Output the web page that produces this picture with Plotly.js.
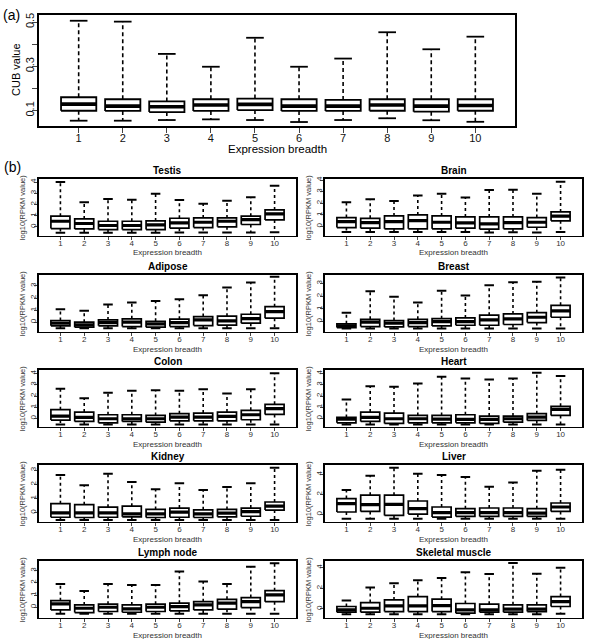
<!DOCTYPE html>
<html><head><meta charset="utf-8">
<script src="https://cdn.plot.ly/plotly-3.0.1.min.js"></script>
<style>html,body{margin:0;padding:0;background:#fff;} #chart{width:600px;height:639px;}</style>
</head><body><div id="chart"></div>
<script>
// ---------- data ----------
const breadth = [1, 2, 3, 4, 5, 6, 7, 8, 9, 10];
const breadthLabels = ['1', '2', '3', '4', '5', '6', '7', '8', '9', '10'];

// (a) CUB value by expression breadth
const cubTickVals = [0.1, 0.2, 0.3, 0.4, 0.5];
const cubTickText = ['0.1', '', '0.3', '', '0.5'];
const cubUpper  = [0.506, 0.502, 0.356, 0.298, 0.429, 0.298, 0.335, 0.454, 0.377, 0.434];
const cubQ3     = [0.160, 0.151, 0.141, 0.151, 0.154, 0.151, 0.148, 0.151, 0.151, 0.151];
const cubMedian = [0.129, 0.120, 0.117, 0.125, 0.128, 0.120, 0.120, 0.125, 0.120, 0.123];
const cubQ1     = [0.099, 0.098, 0.093, 0.098, 0.102, 0.098, 0.098, 0.099, 0.095, 0.099];
const cubLower  = [0.054, 0.054, 0.057, 0.060, 0.057, 0.048, 0.057, 0.065, 0.056, 0.049];

// (b) log10(RPKM value) by expression breadth, per tissue
const tissueNames = ['Testis', 'Brain', 'Adipose', 'Breast', 'Colon', 'Heart', 'Kidney', 'Liver', 'Lymph node', 'Skeletal muscle'];

const testisUpper  = [4.0, 2.19, 2.49, 2.43, 2.96, 2.4, 2.07, 2.34, 2.64, 3.67];
const testisQ3     = [0.95, 0.71, 0.5, 0.5, 0.53, 0.77, 0.8, 0.8, 0.95, 1.51];
const testisMedian = [0.5, 0.3, 0.12, 0.12, 0.18, 0.36, 0.41, 0.5, 0.65, 1.16];
const testisQ1     = [-0.15, -0.18, -0.24, -0.24, -0.24, -0.12, -0.06, 0, 0.21, 0.62];
const testisLower  = [-0.53, -0.53, -0.53, -0.53, -0.53, -0.5, -0.5, -0.5, -0.5, -0.47];

const brainUpper  = [2.09, 2.34, 2.2, 2.66, 2.83, 2.49, 3.14, 3.17, 2.83, 3.86];
const brainQ3     = [0.77, 0.71, 0.91, 1.0, 0.91, 0.83, 0.83, 0.83, 0.77, 1.26];
const brainMedian = [0.43, 0.34, 0.43, 0.51, 0.37, 0.31, 0.23, 0.34, 0.37, 0.89];
const brainQ1     = [-0.09, -0.14, -0.2, -0.2, -0.2, -0.14, -0.23, -0.2, -0.06, 0.49];
const brainLower  = [-0.46, -0.46, -0.46, -0.46, -0.46, -0.46, -0.51, -0.49, -0.51, -0.46];

const adiposeUpper  = [1.07, 0.94, 1.46, 1.63, 1.76, 1.9, 2.23, 2.87, 3.28, 3.77];
const adiposeQ3     = [0.14, 0, 0.19, 0.28, 0.08, 0.25, 0.47, 0.5, 0.66, 1.29];
const adiposeMedian = [-0.08, -0.22, -0.03, 0, -0.14, -0.03, 0.19, 0.11, 0.3, 0.88];
const adiposeQ1     = [-0.3, -0.41, -0.3, -0.36, -0.41, -0.36, -0.28, -0.25, -0.08, 0.33];
const adiposeLower  = [-0.5, -0.5, -0.5, -0.5, -0.5, -0.5, -0.5, -0.5, -0.5, -0.5];

const breastUpper  = [0.7, 2.38, 1.96, 1.49, 2.43, 2.04, 2.85, 3.1, 3.13, 3.47];
const breastQ3     = [-0.18, 0.18, 0.08, 0.18, 0.23, 0.29, 0.5, 0.6, 0.7, 1.28];
const breastMedian = [-0.34, -0.05, -0.13, -0.08, 0, 0, 0.13, 0.21, 0.34, 0.84];
const breastQ1     = [-0.47, -0.39, -0.42, -0.39, -0.34, -0.29, -0.29, -0.23, -0.08, 0.34];
const breastLower  = [-0.55, -0.55, -0.55, -0.55, -0.55, -0.55, -0.55, -0.55, -0.55, -0.55];

const colonUpper  = [2.64, 1.8, 2.28, 2.46, 2.52, 2.46, 2.61, 2.22, 2.61, 4.02];
const colonQ3     = [0.78, 0.57, 0.33, 0.33, 0.27, 0.42, 0.48, 0.57, 0.72, 1.26];
const colonMedian = [0.21, 0.09, -0.03, -0.03, -0.03, 0.12, 0.12, 0.18, 0.33, 0.87];
const colonQ1     = [-0.15, -0.27, -0.39, -0.27, -0.33, -0.21, -0.21, -0.21, -0.12, 0.36];
const colonLower  = [-0.54, -0.54, -0.54, -0.54, -0.54, -0.54, -0.54, -0.54, -0.54, -0.54];

const heartUpper  = [1.68, 2.88, 2.82, 3.12, 3.72, 3.57, 3.48, 3.57, 4.08, 3.78];
const heartQ3     = [0.09, 0.57, 0.48, 0.27, 0.27, 0.33, 0.21, 0.21, 0.42, 1.08];
const heartMedian = [-0.06, 0.09, -0.03, -0.03, -0.06, -0.09, -0.09, -0.03, 0.12, 0.81];
const heartQ1     = [-0.39, -0.27, -0.45, -0.39, -0.39, -0.39, -0.45, -0.33, -0.18, 0.27];
const heartLower  = [-0.55, -0.55, -0.55, -0.55, -0.55, -0.55, -0.55, -0.55, -0.55, -0.55];

const kidneyUpper  = [2.65, 1.94, 2.74, 2.17, 1.65, 2.08, 1.61, 1.82, 2.08, 3.17];
const kidneyQ3     = [0.64, 0.57, 0.4, 0.47, 0.24, 0.33, 0.21, 0.24, 0.33, 0.76];
const kidneyMedian = [0, 0, 0, -0.07, -0.07, 0.05, -0.07, -0.02, 0.09, 0.47];
const kidneyQ1     = [-0.31, -0.33, -0.31, -0.28, -0.33, -0.31, -0.33, -0.28, -0.24, 0.19];
const kidneyLower  = [-0.5, -0.5, -0.5, -0.5, -0.5, -0.5, -0.5, -0.5, -0.5, -0.5];

const liverUpper  = [2.45, 3.87, 4.67, 4.07, 3.93, 3.73, 2.76, 3.19, 4.37, 4.47];
const liverQ3     = [1.58, 1.92, 1.92, 1.34, 0.74, 0.57, 0.64, 0.64, 0.57, 1.14];
const liverMedian = [1.08, 0.97, 1.01, 0.57, 0.17, 0.17, 0.17, 0.17, 0.13, 0.74];
const liverQ1     = [0.24, 0.3, -0.1, 0.03, -0.27, -0.2, -0.2, -0.2, -0.2, 0.3];
const liverLower  = [-0.44, -0.44, -0.44, -0.44, -0.44, -0.44, -0.44, -0.44, -0.44, -0.44];

const lymphUpper  = [1.91, 1.34, 1.91, 1.83, 1.83, 2.92, 2.1, 1.91, 3.32, 3.6];
const lymphQ3     = [0.54, 0.19, 0.25, 0.19, 0.25, 0.33, 0.46, 0.65, 0.79, 1.36];
const lymphMedian = [0.27, -0.08, 0, -0.14, 0, 0.05, 0.19, 0.33, 0.46, 1.01];
const lymphQ1     = [-0.22, -0.44, -0.35, -0.41, -0.35, -0.3, -0.22, -0.16, -0.03, 0.46];
const lymphLower  = [-0.54, -0.54, -0.54, -0.54, -0.54, -0.54, -0.54, -0.54, -0.54, -0.54];

const skeletalUpper  = [0.8, 2.08, 2.5, 2.78, 3.0, 3.56, 3.38, 4.45, 3.42, 4.0];
const skeletalQ3     = [0.23, 0.61, 0.87, 1.19, 0.94, 0.52, 0.45, 0.39, 0.39, 1.19];
const skeletalMedian = [-0.1, 0.06, 0.29, 0.29, 0.32, -0.1, -0.1, -0.03, -0.03, 0.71];
const skeletalQ1     = [-0.32, -0.32, -0.26, -0.26, -0.26, -0.42, -0.32, -0.32, -0.26, 0.23];
const skeletalLower  = [-0.52, -0.52, -0.52, -0.52, -0.52, -0.52, -0.52, -0.52, -0.52, -0.48];

const tickVals0to4 = [0, 1, 2, 3, 4];
const tickVals0to3 = [0, 1, 2, 3];
const tickValsEven = [0, 2, 4];

// ---------- build ----------
const W = 600, H = 639;
const px = v => v / W;
const py = v => 1 - v / H;

const tissues = [
  {name: tissueNames[0], up: testisUpper, q3: testisQ3, med: testisMedian, q1: testisQ1, lo: testisLower, ticks: tickVals0to4, range: [-0.77, 4.27]},
  {name: tissueNames[1], up: brainUpper, q3: brainQ3, med: brainMedian, q1: brainQ1, lo: brainLower, ticks: tickVals0to4, range: [-0.77, 4.09]},
  {name: tissueNames[2], up: adiposeUpper, q3: adiposeQ3, med: adiposeMedian, q1: adiposeQ1, lo: adiposeLower, ticks: tickVals0to3, range: [-0.77, 3.91]},
  {name: tissueNames[3], up: breastUpper, q3: breastQ3, med: breastMedian, q1: breastQ1, lo: breastLower, ticks: tickVals0to3, range: [-0.78, 3.66]},
  {name: tissueNames[4], up: colonUpper, q3: colonQ3, med: colonMedian, q1: colonQ1, lo: colonLower, ticks: tickVals0to4, range: [-0.72, 4.32]},
  {name: tissueNames[5], up: heartUpper, q3: heartQ3, med: heartMedian, q1: heartQ1, lo: heartLower, ticks: tickVals0to4, range: [-0.72, 4.32]},
  {name: tissueNames[6], up: kidneyUpper, q3: kidneyQ3, med: kidneyMedian, q1: kidneyQ1, lo: kidneyLower, ticks: tickVals0to3, range: [-0.61, 3.36]},
  {name: tissueNames[7], up: liverUpper, q3: liverQ3, med: liverMedian, q1: liverQ1, lo: liverLower, ticks: tickValsEven, range: [-0.71, 4.94]},
  {name: tissueNames[8], up: lymphUpper, q3: lymphQ3, med: lymphMedian, q1: lymphQ1, lo: lymphLower, ticks: tickVals0to3, range: [-0.84, 3.79]},
  {name: tissueNames[9], up: skeletalUpper, q3: skeletalQ3, med: skeletalMedian, q1: skeletalQ1, lo: skeletalLower, ticks: tickValsEven, range: [-0.84, 4.65]}
];

function boxTraces(xa, ya, up, q3, med, q1, lo, s) {
  const wx = [], wy = [], cx = [], cy = [], bx = [], by = [], mx = [], my = [];
  const hb = 0.4, hc = 0.2;
  breadth.forEach((x, i) => {
    wx.push(x, x, null, x, x, null);
    wy.push(q3[i], up[i], null, q1[i], lo[i], null);
    cx.push(x - hc, x + hc, null, x - hc, x + hc, null);
    cy.push(up[i], up[i], null, lo[i], lo[i], null);
    bx.push(x - hb, x + hb, x + hb, x - hb, x - hb, null);
    by.push(q1[i], q1[i], q3[i], q3[i], q1[i], null);
    mx.push(x - hb, x + hb, null);
    my.push(med[i], med[i], null);
  });
  const base = {xaxis: xa, yaxis: ya, mode: 'lines', hoverinfo: 'skip', showlegend: false, connectgaps: false};
  return [
    Object.assign({}, base, {x: wx, y: wy, line: {color: '#000', width: s.wl, dash: s.dash}}),
    Object.assign({}, base, {x: cx, y: cy, line: {color: '#000', width: s.cl}}),
    Object.assign({}, base, {x: bx, y: by, fill: 'toself', fillcolor: '#fff', line: {color: '#000', width: s.bl}}),
    Object.assign({}, base, {x: mx, y: my, line: {color: '#000', width: s.ml}})
  ];
}

const FONT = 'Liberation Sans, Arial, sans-serif';
let traces = [];
const layout = {
  width: W, height: H,
  margin: {l: 0, r: 0, t: 0, b: 0},
  paper_bgcolor: '#fff', plot_bgcolor: '#fff',
  showlegend: false,
  font: {family: FONT, color: '#000'},
  annotations: []
};

function ann(text, x, y, size, opts) {
  layout.annotations.push(Object.assign({
    text: text, x: px(x), y: py(y), xref: 'paper', yref: 'paper',
    xanchor: 'center', yanchor: 'middle', showarrow: false,
    font: {family: FONT, size: size, color: '#000'}
  }, opts || {}));
}

// Panel (a)
traces = traces.concat(boxTraces('x', 'y', cubUpper, cubQ3, cubMedian, cubQ1, cubLower,
  {wl: 1.6, cl: 1.8, bl: 1.8, ml: 3.6, dash: '4px,3px'}));
layout.xaxis = {
  domain: [px(39), px(515)], anchor: 'y', range: [0.1, 10.9],
  tickvals: breadth, ticktext: breadthLabels, ticks: 'outside', ticklen: 5, tickwidth: 1,
  ticklabelstandoff: -4,
  showline: true, mirror: true, linewidth: 2, linecolor: '#000',
  showgrid: false, zeroline: false, tickfont: {size: 11, family: FONT, color: '#111'}
};
layout.yaxis = {
  domain: [py(126), py(15)], anchor: 'x', range: [0.030, 0.532],
  tickvals: cubTickVals, ticktext: cubTickText, tickangle: -90, ticks: 'outside', ticklen: 5, tickwidth: 1,
  ticklabelstandoff: -6,
  showline: true, mirror: true, linewidth: 2, linecolor: '#000',
  showgrid: false, zeroline: false, tickfont: {size: 11, family: FONT, color: '#111'}
};
ann('(a)', 11, 15, 14);
ann('Expression breadth', 277, 149, 11.5);
ann('CUB value', 16, 70, 11, {textangle: -90});
ann('(b)', 12, 167, 14);

// Panel (b) small multiples
const colL = [[39, 296], [325, 582]];
const rowTops = [179, 275, 370, 465, 561];
const rowH = 56.5;
tissues.forEach((t, k) => {
  const n = k + 2;
  const xa = 'x' + n, ya = 'y' + n;
  const col = colL[k % 2];
  const top = rowTops[Math.floor(k / 2)];
  const bot = top + rowH;
  traces = traces.concat(boxTraces(xa, ya, t.up, t.q3, t.med, t.q1, t.lo,
    {wl: 1.6, cl: 2, bl: 1.7, ml: 3.2, dash: '3px,3px'}));
  layout['xaxis' + n] = {
    domain: [px(col[0]), px(col[1])], anchor: ya, range: [0.1, 10.9],
    tickvals: breadth, ticktext: breadthLabels, ticks: 'outside', ticklen: 3, tickwidth: 1,
    ticklabelstandoff: -4,
    showline: true, mirror: true, linewidth: 1.8, linecolor: '#000',
    showgrid: false, zeroline: false, tickfont: {size: 8, family: FONT, color: '#333'}
  };
  layout['yaxis' + n] = {
    domain: [py(bot), py(top)], anchor: xa, range: t.range,
    tickvals: t.ticks, tickangle: -90, ticks: 'outside', ticklen: 3, tickwidth: 1,
    ticklabelstandoff: -5,
    showline: true, mirror: true, linewidth: 1.8, linecolor: '#000',
    showgrid: false, zeroline: false, tickfont: {size: 8, family: FONT, color: '#333'}
  };
  ann('<b>' + t.name + '</b>', (col[0] + col[1]) / 2, top - 9, 10);
  ann('Expression breadth', (col[0] + col[1]) / 2, bot + 17.5, 8, {font: {family: FONT, size: 8, color: '#333'}});
  ann('log10(RPKM value)', col[0] - 17, (top + bot) / 2, 7.5, {textangle: -90, font: {family: FONT, size: 7.5, color: '#333'}});
});

Plotly.newPlot('chart', traces, layout, {staticPlot: true, displayModeBar: false});
</script>
</body></html>
